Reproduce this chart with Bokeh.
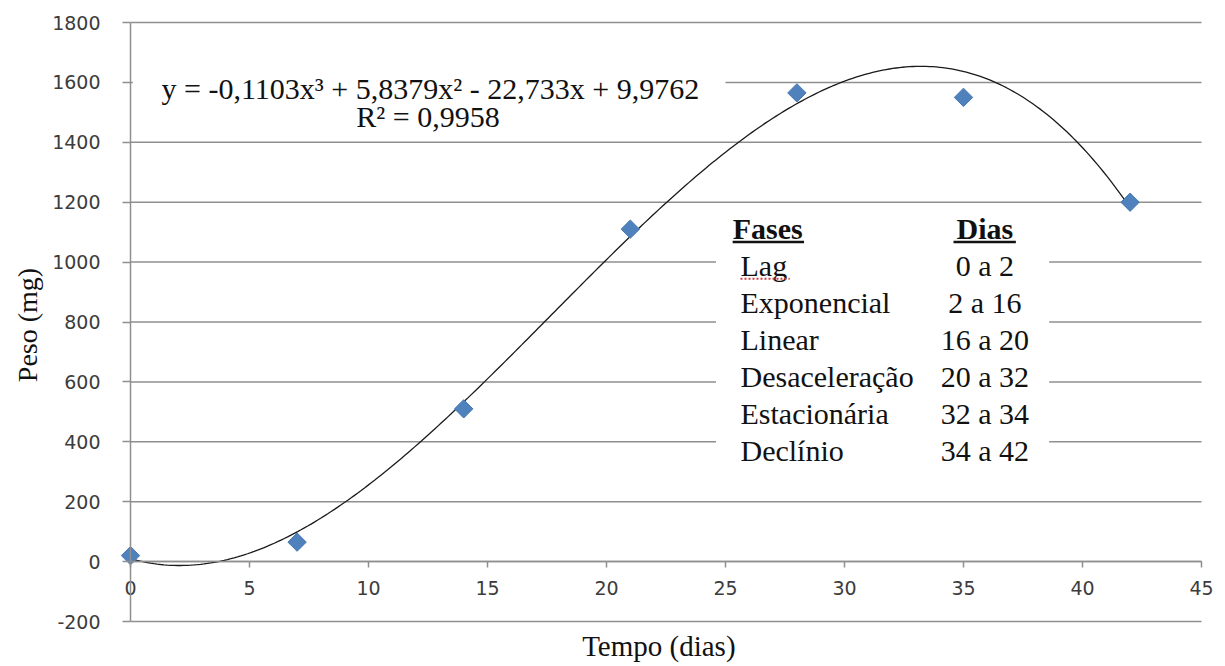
import numpy as np
from bokeh.plotting import figure
from bokeh.models import FixedTicker, Label, Range1d
from bokeh.core.properties import value
from bokeh.embed import file_html
from bokeh.resources import INLINE

# ---- data ----
dias = [0, 7, 14, 21, 28, 35, 42]
peso = [20, 65, 510, 1110, 1565, 1550, 1200]
trend_coefs = [-0.1103, 5.8379, -22.733, 9.9762]  # coefficients shown in the chart
eq_text = "y = -0,1103x³ + 5,8379x² - 22,733x + 9,9762"
r2_text = "R² = 0,9958"
fases = ["Lag", "Exponencial", "Linear", "Desaceleração", "Estacionária", "Declínio"]
intervalos = ["0 a 2", "2 a 16", "16 a 20", "20 a 32", "32 a 34", "34 a 42"]
x_ticks = list(range(0, 50, 5))
y_ticks = list(range(-200, 2000, 200))

SERIF = value("Liberation Serif")
GRID = "#8f8f8f"
INK = "#111111"

W, H = 1225, 666
# plot area: x 0..45 spans 130..1201 px, y -200..1800 spans 621..22 px
sx = (1201 - 130) / 45.0
sy = (621 - 22) / 2000.0
y0px = 621 - 200 * sy

p = figure(width=W, height=H,
           x_range=Range1d(-130 / sx, (W - 130) / sx),
           y_range=Range1d(-(H - y0px) / sy, y0px / sy),
           output_backend="svg", toolbar_location=None,
           min_border_left=0, min_border_right=0, min_border_top=0, min_border_bottom=0)
p.outline_line_color = None
p.background_fill_color = "white"
p.border_fill_color = "white"
p.xgrid.visible = False
p.ygrid.visible = False

for ax in (p.xaxis, p.yaxis):
    ax.axis_line_color = GRID
    ax.axis_line_width = 1.5
    ax.major_tick_line_color = GRID
    ax.major_tick_line_width = 1.5
    ax.major_tick_in = 0
    ax.minor_tick_line_color = None
    ax.major_label_text_font = "DejaVu Sans"
    ax.major_label_text_font_size = "19px"
    ax.major_label_text_color = "#3c3c3c"

p.xaxis.fixed_location = 0
p.xaxis.bounds = (0, 45)
p.xaxis.ticker = FixedTicker(ticks=x_ticks)
p.xaxis.major_tick_out = 6
p.xaxis.major_label_standoff = 13

p.yaxis.fixed_location = 0
p.yaxis.bounds = (-200, 1800)
p.yaxis.ticker = FixedTicker(ticks=y_ticks)
p.yaxis.major_tick_out = 8
p.yaxis.major_label_standoff = 22
p.yaxis.major_label_overrides = {t: str(t) for t in y_ticks}

# horizontal gridlines over the plot area
p.segment(x0=[x_ticks[0]] * len(y_ticks), x1=[x_ticks[-1]] * len(y_ticks),
          y0=y_ticks, y1=y_ticks, line_color=GRID, line_width=1.5)

# white boxes behind the equation and the table
p.quad(left=[0.1], right=[25.0], bottom=[1450], top=[1690], fill_color="white", line_color=None)
p.quad(left=[24.6], right=[38.6], bottom=[300], top=[1173], fill_color="white", line_color=None)

# trendline
xs = np.linspace(dias[0], dias[-1], 300)
ys = np.polyval(trend_coefs, xs)
p.line(xs, ys, line_color="#1a1a1a", line_width=1.3)

# data points
p.scatter(dias, peso, marker="square", size=13, angle=np.pi / 4,
          fill_color="#4F81BD", line_color="#4677b3")

# equation
p.text(x=[12.6, 12.5], y=[1580, 1487], text=[eq_text, r2_text], text_align="center",
       text_baseline="alphabetic", text_font=SERIF, text_font_size=value("30px"),
       text_color=INK)

# table
p.text(x=[25.3], y=[1113], text=["Fases"], text_align="left", text_baseline="middle",
       text_font=SERIF, text_font_size=value("30px"), text_font_style="bold", text_color=INK)
p.text(x=[35.9], y=[1113], text=["Dias"], text_align="center", text_baseline="middle",
       text_font=SERIF, text_font_size=value("30px"), text_font_style="bold", text_color=INK)
p.segment(x0=[25.3, 34.58], x1=[28.3, 37.2], y0=[1067, 1067], y1=[1067, 1067],
          line_color=INK, line_width=2.5)
row_y = [990 - 124 * i for i in range(len(fases))]
p.text(x=[25.63] * len(fases), y=row_y, text=fases, text_align="left", text_baseline="middle",
       text_font=SERIF, text_font_size=value("30px"), text_color=INK)
p.text(x=[35.9] * len(intervalos), y=row_y, text=intervalos, text_align="center",
       text_baseline="middle", text_font=SERIF, text_font_size=value("30px"), text_color=INK)
# spell-check underline under "Lag"
p.line(x=[25.63, 27.7], y=[944, 944], line_color="#d04040", line_width=2, line_dash="2 2")

# axis titles
p.add_layout(Label(x=-4.33, y=790, text="Peso (mg)", angle=np.pi / 2, text_align="center",
                   text_baseline="middle", text_font="Liberation Serif", text_font_size="28px",
                   text_color=INK))
p.add_layout(Label(x=22.2, y=-282, text="Tempo (dias)", text_align="center",
                   text_baseline="middle", text_font="Liberation Serif", text_font_size="29px",
                   text_color=INK))

open("out.html", "w").write(file_html(p, INLINE))
